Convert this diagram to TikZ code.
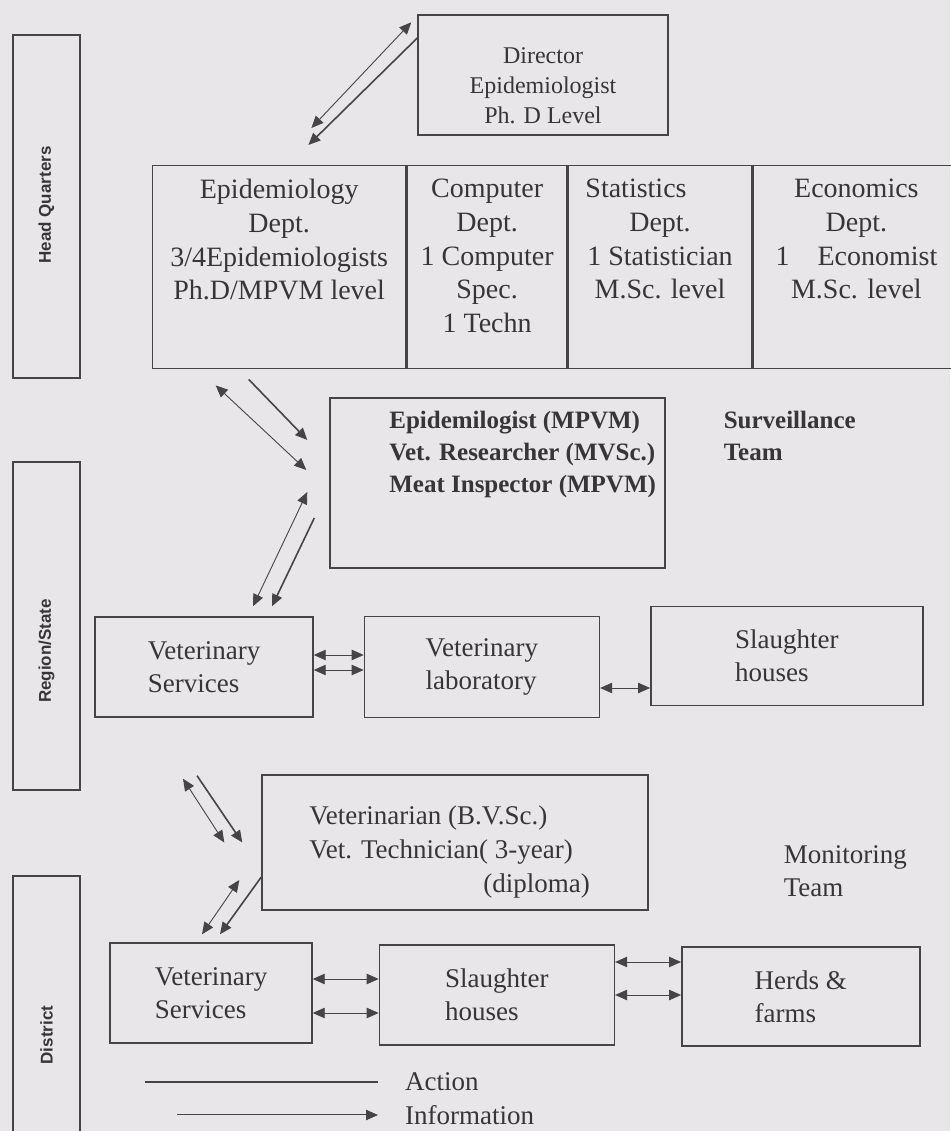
\documentclass[tikz,border=0pt]{standalone}
\usepackage{fontspec}
\setmainfont{Liberation Serif}
\setsansfont{Liberation Sans}
\usetikzlibrary{arrows.meta,positioning}
\definecolor{scanpaper}{HTML}{E8E6E9}
\definecolor{inkgray}{HTML}{363636}
\definecolor{rulegray}{HTML}{454545}
\newcommand{\bandtext}[1]{\sffamily\bfseries\fontsize{8.5}{10}\selectfont #1}

\begin{document}
\begin{tikzpicture}[
  x=1pt, y=1pt,
  every node/.style={font=\fontsize{13.5}{16.5}\selectfont, text=inkgray},
  box/.style={draw=rulegray, line width=0.7pt, align=left, inner sep=3pt},
  band/.style={draw=rulegray, line width=0.7pt, minimum width=33.5pt, inner sep=0pt},
  deptcol/.style={draw=rulegray, line width=0.7pt, minimum height=101.5pt, inner sep=0pt},
  depttext/.style={align=center, font=\fontsize{14}{16.9}\selectfont},
  boldtext/.style={align=left, font=\bfseries\fontsize{12.5}{16}\selectfont},
  info/.style={{Triangle[length=6pt,width=5.2pt]}-{Triangle[length=6pt,width=5.2pt]}, line width=0.45pt, color=rulegray},
  act/.style={-{Triangle[length=6pt,width=5.2pt]}, line width=0.8pt, color=rulegray},
]
  \useasboundingbox (0,0) rectangle (475,565.5);
  \fill[scanpaper] (0,0) rectangle (475,565.5);

  % level bands
  \node[band, minimum height=171.5pt] (hqband) at (23.25,462.25) {};
  \node[band, minimum height=164pt] (regionband) at (23.25,252.5) {};
  \node[band, minimum height=132pt] (districtband) at (23.25,61.5) {};
  \node[rotate=90] (hqlabel) at (23.25,463) {\bandtext{Head Quarters}};
  \node[rotate=90] (regionlabel) at (23.25,240) {\bandtext{Region/State}};
  \node[rotate=90] (districtlabel) at (23.25,48) {\bandtext{District}};

  % head quarters
  \node[box, minimum width=125pt, minimum height=60pt] (director) at (271.5,528) {};
  \node[align=center, font=\fontsize{12}{15}\selectfont, below=13pt of director.north] (directortxt) {Director\\Epidemiologist\\Ph. D Level};
  \node[deptcol, minimum width=126.5pt, anchor=north west] (epidcol) at (76,483) {};
  \node[deptcol, minimum width=80pt, right=0pt of epidcol] (compcol) {};
  \node[deptcol, minimum width=91.5pt, right=0pt of compcol] (statcol) {};
  \node[deptcol, minimum width=103.5pt, right=0pt of statcol] (econcol) {};
  \node[depttext, below=3.5pt of epidcol.north] (epidtxt) {Epidemiology\\Dept.\\3/4Epidemiologists\\Ph.D/MPVM level};
  \node[depttext, below=3.5pt of compcol.north] (comptxt) {Computer\\Dept.\\1 Computer\\Spec.\\1 Techn};
  \node[depttext, below=3.5pt of statcol.north] (stattxt) {Statistics\hspace*{24pt}\\Dept.\\1 Statistician\\M.Sc. level};
  \node[depttext, below=3.5pt of econcol.north] (econtxt) {Economics\\Dept.\\1\quad Economist\\M.Sc. level};

  % region / state
  \node[box, minimum width=167.5pt, minimum height=85pt] (survbox) at (248.75,324) {};
  \node[boldtext, below right=3.5pt and 26.5pt of survbox.north west] (survtxt) {Epidemilogist (MPVM)\\Vet. Researcher (MVSc.)\\Meat Inspector (MPVM)};
  \node[boldtext, below right=3.5pt and 25.5pt of survbox.north east] (survteam) {Surveillance\\Team};
  \node[box, minimum width=109pt, minimum height=50pt] (vsreg) at (102,232) {Veterinary\\Services};
  \node[box, minimum width=117.5pt, minimum height=50.5pt, right=25pt of vsreg] (vlab) {Veterinary\\laboratory};
  \node[box, minimum width=136pt, minimum height=49.5pt, right=25pt of vlab, yshift=5.5pt] (shreg) {Slaughter\\houses};

  % district
  \node[box, minimum width=193pt, minimum height=67.5pt] (vetbox) at (227.5,144.25) {};
  \node[align=left, font=\fontsize{13.5}{17}\selectfont, below right=12pt and 20.5pt of vetbox.north west] (vettxt) {Veterinarian (B.V.Sc.)\\Vet. Technician( 3-year)\\\hspace*{87pt}(diploma)};
  \node[align=left, right=64pt of vetbox, yshift=-14.5pt] (monteam) {Monitoring\\Team};
  \node[box, minimum width=101pt, minimum height=50pt] (vsdist) at (105.5,69) {Veterinary\\Services};
  \node[box, minimum width=117.5pt, minimum height=50pt, right=33pt of vsdist, yshift=-1pt] (shdist) {Slaughter\\houses};
  \node[box, minimum width=119pt, minimum height=49.5pt, right=33pt of shdist, yshift=-0.75pt] (herds) {Herds \&\\farms};

  % legend
  \node[anchor=west] (actlabel) at (199,24.5) {Action};
  \node[anchor=west] (infolabel) at (199,8) {Information};
  \coordinate[left=10pt of actlabel.west] (actend);
  \coordinate[left=116.5pt of actend] (actstart);
  \coordinate[left=10pt of infolabel.west] (infoend);
  \coordinate[left=100.5pt of infoend] (infostart);
  \draw[line width=1pt, rulegray] (actstart) -- (actend);
  \draw[act, line width=0.5pt] (infostart) -- (infoend);

  % links between levels
  \draw[info] ([shift={(-3pt,-4pt)}]director.north west) -- ([shift={(-47.5pt,18.5pt)}]epidcol.north east);
  \draw[act] ([yshift=18.5pt]director.west) -- ([shift={(-49pt,10pt)}]epidcol.north east);
  \draw[info] ([shift={(-31.75pt,-8pt)}]epidcol.south) -- ([shift={(-11.5pt,6.5pt)}]survbox.west);
  \draw[act] ([shift={(-15.25pt,-5pt)}]epidcol.south) -- ([shift={(-11pt,21.5pt)}]survbox.west);
  \draw[info] ([shift={(-11pt,-4.5pt)}]survbox.west) -- ([shift={(24.5pt,5pt)}]vsreg.north);
  \draw[act] ([shift={(-7.5pt,-17.5pt)}]survbox.west) -- ([shift={(34pt,5pt)}]vsreg.north);
  \draw[info] ([shift={(-10.5pt,-30.5pt)}]vsreg.south) -- ([xshift=-18.5pt]vetbox.west);
  \draw[act] ([shift={(-3.5pt,-29pt)}]vsreg.south) -- ([xshift=-9.5pt]vetbox.west);
  \draw[info] ([shift={(-11pt,-18.75pt)}]vetbox.west) -- ([shift={(-4.5pt,4pt)}]vsdist.north);
  \draw[act] ([yshift=-17.25pt]vetbox.west) -- ([shift={(4.5pt,4pt)}]vsdist.north);

  % links within levels
  \draw[info] ([yshift=6pt]vsreg.east) -- ([yshift=6pt]vsreg.east -| vlab.west);
  \draw[info] ([yshift=-1.5pt]vsreg.east) -- ([yshift=-1.5pt]vsreg.east -| vlab.west);
  \draw[info] ([yshift=-10.5pt]vlab.east) -- ([yshift=-10.5pt]vlab.east -| shreg.west);
  \draw[info] ([yshift=7pt]vsdist.east) -- ([yshift=7pt]vsdist.east -| shdist.west);
  \draw[info] ([yshift=-10pt]vsdist.east) -- ([yshift=-10pt]vsdist.east -| shdist.west);
  \draw[info] ([yshift=16.5pt]shdist.east) -- ([yshift=16.5pt]shdist.east -| herds.west);
  \draw[info] (shdist.east) -- (shdist.east -| herds.west);
\end{tikzpicture}
\end{document}
